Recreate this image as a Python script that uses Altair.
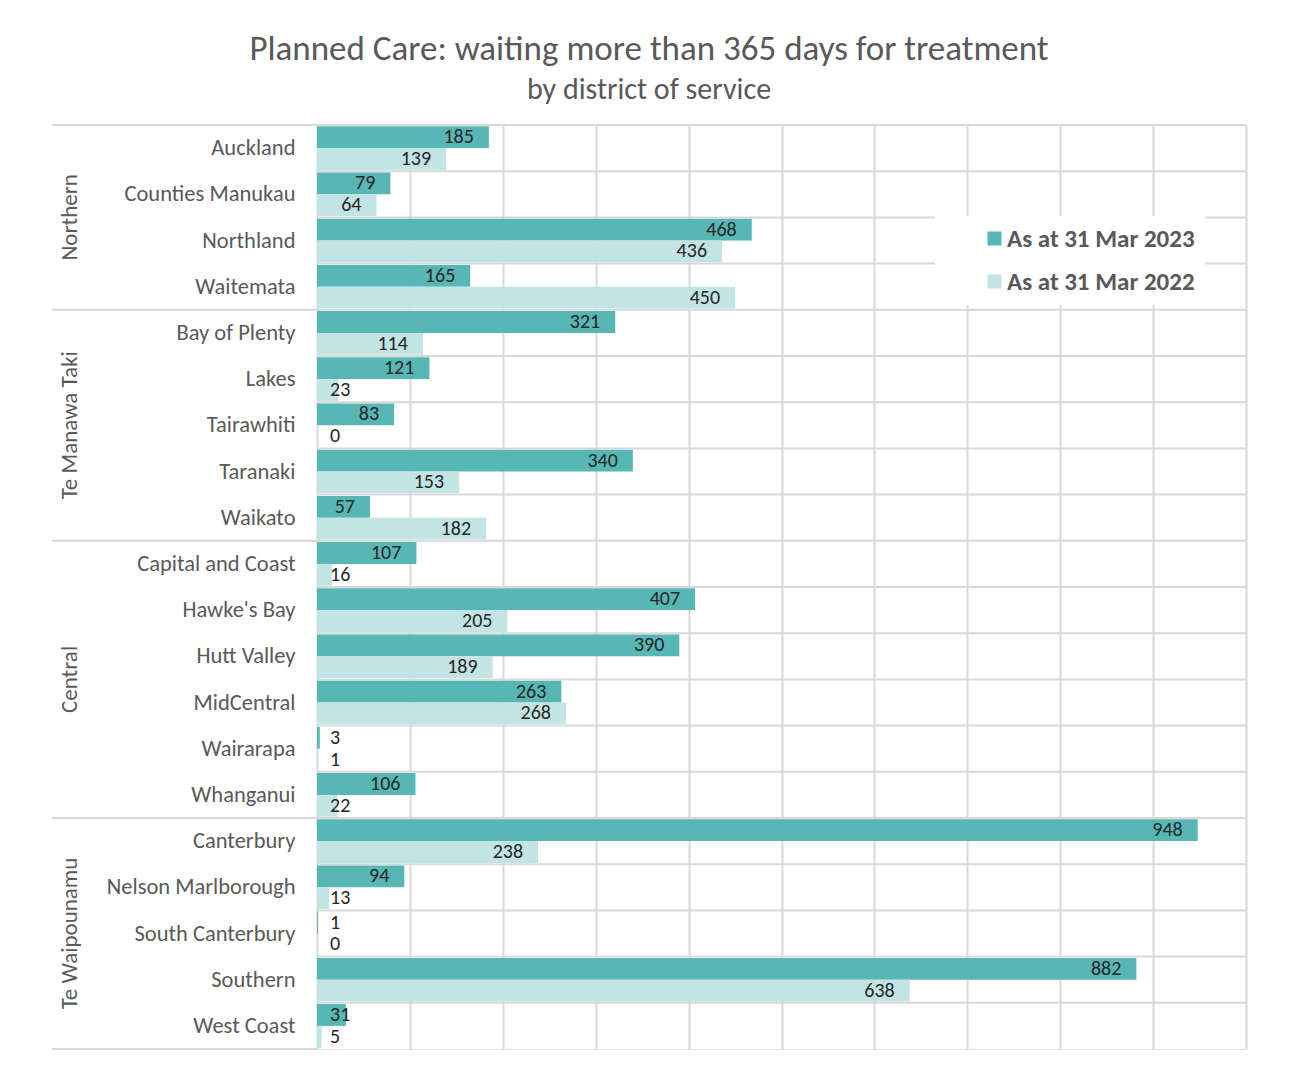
import altair as alt
import pandas as pd

# ---- data ----
groups = ["Northern", "Te Manawa Taki", "Central", "Te Waipounamu"]
group_members = [
    ["Auckland", "Counties Manukau", "Northland", "Waitemata"],
    ["Bay of Plenty", "Lakes", "Tairawhiti", "Taranaki", "Waikato"],
    ["Capital and Coast", "Hawke's Bay", "Hutt Valley", "MidCentral", "Wairarapa", "Whanganui"],
    ["Canterbury", "Nelson Marlborough", "South Canterbury", "Southern", "West Coast"],
]
districts = [d for g in group_members for d in g]
series = ["As at 31 Mar 2023", "As at 31 Mar 2022"]
values_2023 = [185, 79, 468, 165, 321, 121, 83, 340, 57, 107, 407, 390, 263, 3, 106, 948, 94, 1, 882, 31]
values_2022 = [139, 64, 436, 450, 114, 23, 0, 153, 182, 16, 205, 189, 268, 1, 22, 238, 13, 0, 638, 5]
x_ticks = [0, 100, 200, 300, 400, 500, 600, 700, 800, 900, 1000]

group_of = {d: g for g, members in zip(groups, group_members) for d in members}

rows = []
for d, v23, v22 in zip(districts, values_2023, values_2022):
    rows.append({"district": d, "group": group_of[d], "series": series[0], "value": v23})
    rows.append({"district": d, "group": group_of[d], "series": series[1], "value": v22})
df = pd.DataFrame(rows)

dist_df = pd.DataFrame({"district": districts})
group_first = pd.DataFrame({"district": [m[0] for m in group_members]})
group_last = pd.DataFrame({"district": [group_members[-1][-1]]})
# group labels: even-sized groups centre on a boundary, odd-sized on a row centre
even_lab = pd.DataFrame({"district": [m[len(m) // 2 - 1] for m in group_members if len(m) % 2 == 0],
                         "group": [g for g, m in zip(groups, group_members) if len(m) % 2 == 0]})
odd_lab = pd.DataFrame({"district": [m[len(m) // 2] for m in group_members if len(m) % 2 == 1],
                        "group": [g for g, m in zip(groups, group_members) if len(m) % 2 == 1]})

FONT = "Carlito, Calibri, Lato, sans-serif"
GREY = "#595959"
GRID = "#d9d9d9"
W, H = 929, 924

yscale = alt.Scale(domain=districts, paddingInner=0, paddingOuter=0)
xscale = alt.Scale(domain=[0, 1000], nice=False)

def Y(bp=None):
    kw = {}
    if bp is not None:
        kw["bandPosition"] = bp
    return alt.Y("district:N", scale=yscale, **kw)

bars = alt.Chart(df).mark_bar().encode(
    y=alt.Y("district:N", scale=yscale, title=None,
            axis=alt.Axis(domain=False, ticks=False, grid=False, labelFontSize=22.5,
                          labelColor=GREY, labelFont=FONT, labelPadding=22, labelLimit=400)),
    yOffset=alt.YOffset("series:N", sort=series,
                        scale=alt.Scale(domain=series, paddingInner=0, paddingOuter=0.06)),
    x=alt.X("value:Q", scale=xscale, title=None,
            axis=alt.Axis(values=x_ticks, labels=False, ticks=False, domain=False,
                          grid=True, gridColor=GRID, gridWidth=2)),
    color=alt.Color("series:N", sort=series,
                    scale=alt.Scale(domain=series, range=["#56b7b4", "#c2e4e4"]),
                    legend=alt.Legend(title=None, orient="none", legendX=618, legendY=91,
                                      fillColor="white", padding=10, symbolOffset=37,
                                      symbolType="square", symbolSize=196, symbolStrokeWidth=0,
                                      labelFontSize=25, labelFontWeight="bold", labelColor=GREY,
                                      labelFont=FONT, rowPadding=17, labelOffset=0,
                                      labelLimit=400)),
)

text_in = alt.Chart(df).transform_filter("datum.value >= 52").mark_text(
    align="right", baseline="middle", dx=-15, fontSize=20, font=FONT, color="#262626"
).encode(
    y=alt.Y("district:N", scale=yscale),
    yOffset=alt.YOffset("series:N", sort=series),
    x=alt.X("value:Q", scale=xscale),
    text="value:Q",
)

text_out = alt.Chart(df).transform_filter("datum.value < 52").mark_text(
    align="left", baseline="middle", dx=13, fontSize=20, font=FONT, color="#262626"
).encode(
    y=alt.Y("district:N", scale=yscale),
    yOffset=alt.YOffset("series:N", sort=series),
    x=alt.value(0),
    text="value:Q",
)

row_rules = alt.Chart(dist_df).mark_rule(color=GRID, strokeWidth=2).encode(
    y=Y(0), x=alt.value(0), x2=alt.value(W)
)

grp_rules_top = alt.Chart(group_first).mark_rule(color=GRID, strokeWidth=2).encode(
    y=Y(0), x=alt.value(-265), x2=alt.value(0)
)
grp_rules_bottom = alt.Chart(group_last).mark_rule(color=GRID, strokeWidth=2).encode(
    y=Y(1), x=alt.value(-265), x2=alt.value(0)
)

grp_lab_even = alt.Chart(even_lab).mark_text(
    angle=270, align="center", baseline="middle", fontSize=23, font=FONT, color=GREY
).encode(y=Y(1), x=alt.value(-247), text="group:N")

grp_lab_odd = alt.Chart(odd_lab).mark_text(
    angle=270, align="center", baseline="middle", fontSize=23, font=FONT, color=GREY
).encode(y=Y(0.5), x=alt.value(-247), text="group:N")

chart = alt.layer(
    row_rules, bars, text_in, text_out, grp_rules_top, grp_rules_bottom, grp_lab_even, grp_lab_odd
).properties(
    width=W, height=H,
    padding={"left": 43, "top": 24, "right": 20, "bottom": 10},
    title=alt.TitleParams(
        text="Planned Care: waiting more than 365 days for treatment",
        subtitle="by district of service",
        fontSize=35, subtitleFontSize=30, color=GREY, subtitleColor=GREY,
        fontWeight="normal", font=FONT, subtitleFont=FONT,
        anchor="middle", frame="bounds", offset=19, subtitlePadding=8,
    ),
).configure_view(stroke="#c8c8c8", strokeWidth=2).configure(background="white")

chart.save("out.html", embed_options={"renderer": "svg", "actions": False})
